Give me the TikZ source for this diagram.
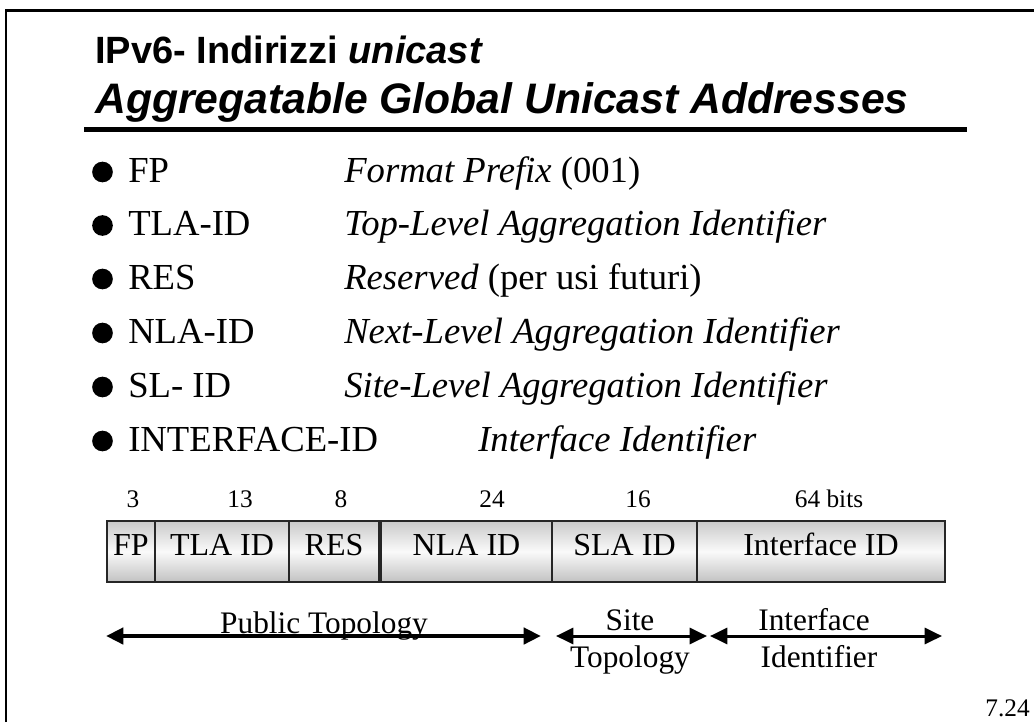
\documentclass[tikz,border=0pt]{standalone}
\usepackage{fontspec}
\setmainfont{Liberation Serif}
\newfontfamily\headfont{Liberation Sans}
\usepackage{tikz}
\usetikzlibrary{arrows.meta}

\tikzset{
  txt/.style={inner sep=0pt,anchor=base},
  head/.style={txt,anchor=base west,font=\headfont\bfseries},
  item/.style={txt,anchor=base west,font=\fontsize{27.5}{33}\selectfont},
  dot/.style={circle,fill,inner sep=0pt,minimum size=15.5pt},
  field/.style={draw=black!85,line width=1.1pt,inner sep=0pt,
    top color=gray!42,bottom color=gray!48,middle color=gray!4,
    font=\fontsize{24}{28}\selectfont,text height=0.66em,text depth=0pt},
  bits/.style={txt,font=\fontsize{19}{23}\selectfont},
  topo/.style={txt,font=\fontsize{23.5}{28}\selectfont},
  span/.style={{Triangle[length=13pt,width=12pt]}-{Triangle[length=13pt,width=12pt]},line width=2.25pt}
}

\begin{document}
\begin{tikzpicture}[x=0.75pt,y=-0.75pt]
  \useasboundingbox (0,0) rectangle (1034,722);
  % frame and heading
  \draw[line width=2pt] (6,722) -- (6,10.5) -- (1034,10.5);
  \node[head,font=\headfont\bfseries\fontsize{28.5}{34}\selectfont] (title) at (95,63) {IPv6- Indirizzi \textit{unicast}};
  \node[head,font=\headfont\bfseries\fontsize{32}{38}\selectfont] (subtitle) at (95,113) {\textit{Aggregatable Global Unicast Addresses}};
  \draw[line width=3.75pt] (84,129.5) -- (967,129.5);

  % list of fields
  \foreach \y/\term/\dx/\desc [count=\i] in {
      182/FP/344/{\textit{Format Prefix} (001)},
      235.5/TLA-ID/344/{\textit{Top-Level Aggregation Identifier}},
      289/RES/344/{\textit{Reserved} (per usi futuri)},
      343/NLA-ID/344/{\textit{Next-Level Aggregation Identifier}},
      397/SL- ID/344/{\textit{Site-Level Aggregation Identifier}},
      451/INTERFACE-ID/478/{\textit{Interface Identifier}}} {
    \node[dot] (dot\i) at (102.5,\y-10) {};
    \node[item] (term\i) at (128,\y) {\term};
    \node[item] (desc\i) at (\dx,\y) {\desc};
  }

  % address layout
  \foreach \l/\r/\lab/\n/\nx/\name in {
      107/155/FP/3/133/fp,
      155/289/TLA ID/13/240/tla,
      289/379/RES/8/341/res,
      381/552/NLA ID/24/492/nla,
      552/697/SLA ID/16/638/sla,
      697/945/Interface ID/64 bits/829/iid} {
    \node[field,minimum width={(\r-\l)*0.75pt},minimum height=45.75pt] (\name) at ({(\l+\r)/2},551.5) {\lab};
    \node[bits] (\name-n) at (\nx,507) {\n};
  }

  % scopes
  \coordinate (pubL) at (106,636);
  \coordinate (pubR) at (541,636);
  \coordinate (siteL) at (556,636);
  \coordinate (siteR) at (707,636);
  \coordinate (ifL) at (710,636);
  \coordinate (ifR) at (942,636);
  \draw[span,line width=3.4pt] (pubL) -- (pubR);
  \draw[span] (siteL) -- (siteR);
  \draw[span] (ifL) -- (ifR);
  \node[topo] (pub) at (324,633) {Public Topology};
  \node[topo] (site) at (630,630) {Site};
  \node[topo] (site2) at (630,667) {Topology};
  \node[topo] (if) at (814,630) {Interface};
  \node[topo] (if2) at (819,667) {Identifier};

  \node[txt,font=\fontsize{19}{23}\selectfont,anchor=base east] (page) at (1030,716) {7.24};
\end{tikzpicture}
\end{document}
